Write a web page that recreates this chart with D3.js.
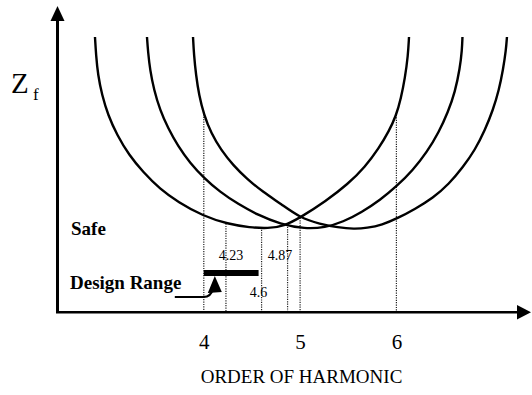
<!DOCTYPE html>
<html><head><meta charset="utf-8">
<script src="https://cdn.jsdelivr.net/npm/d3@7"></script>
<style>html,body{margin:0;padding:0;background:#fff}</style>
</head><body>
<svg id="chart" width="532" height="395"></svg>
<script>
// ---- data (harmonic order, Zf in arbitrary units) ----
const curveA = [[2.870,91.67],[2.881,85.67],[2.901,79.0],[2.943,72.33],[3.005,65.67],[3.099,59.0],[3.223,52.33],[3.369,46.67],[3.545,41.0],[3.732,36.67],[3.992,32.0],[4.251,29.33],[4.480,28.17],[4.667,27.83],[4.833,28.67],[4.999,31.4],[5.269,37.0],[5.497,42.67],[5.674,48.33],[5.819,54.67],[5.923,60.33],[5.996,65.33],[6.048,71.33],[6.089,78.0],[6.120,85.33],[6.131,91.67]];
const curveB = [[3.410,91.67],[3.421,86.67],[3.442,80.67],[3.483,74.0],[3.545,67.33],[3.628,61.33],[3.732,55.33],[3.857,49.67],[4.002,44.67],[4.168,40.0],[4.355,36.0],[4.563,32.33],[4.791,29.33],[5.051,27.67],[5.259,28.17],[5.445,30.0],[5.643,33.33],[5.830,37.33],[6.006,42.0],[6.172,47.33],[6.318,53.33],[6.442,60.0],[6.536,66.67],[6.609,73.33],[6.660,81.33],[6.681,87.33],[6.686,91.67]];
const curveC = [[3.888,91.67],[3.898,85.67],[3.919,79.0],[3.950,72.33],[4.002,65.67],[4.075,59.67],[4.179,54.0],[4.303,49.0],[4.449,44.33],[4.615,40.0],[4.802,36.0],[4.999,31.4],[5.207,29.33],[5.394,28.17],[5.560,27.67],[5.695,28.0],[5.850,29.0],[6.017,31.33],[6.193,34.33],[6.380,38.0],[6.546,42.67],[6.692,48.33],[6.816,54.0],[6.920,60.67],[7.003,67.33],[7.065,74.0],[7.107,80.67],[7.138,87.33],[7.148,91.67]];
const tickValues = [4, 5, 6];
const guideValues = [4, 4.23, 4.6, 4.87, 5, 6];
const guideTops = [65.9, 29.5, 28.2, 29.2, 31.4, 65.7];
const valueLabels = ["4.23", "4.6", "4.87"];
const valueLabelAt = [4.23, 4.6, 4.87];
const valueLabelLevel = [17.3, 5, 17.3];
const designRange = [4, 4.6];
const designLevel = 13;
const xTitle = "ORDER OF HARMONIC";
const yTitle = "Z";
const ySub = "f";
const safeLabel = "Safe";
const rangeLabel = "Design Range";

// ---- layout ----
const svg = d3.select("#chart");
svg.append("rect").attr("width",532).attr("height",395).attr("fill","#fff");
const x = d3.scaleLinear().domain([4, 6]).range([203.8, 396.4]);
const y = d3.scaleLinear().domain([0, 100]).range([312, 12]);
const serif = "'Liberation Serif','Times New Roman',serif";

// guide lines (dotted)
svg.append("g").selectAll("line").data(guideValues).join("line")
  .attr("x1", d => x(d)).attr("x2", d => x(d))
  .attr("y1", (d,i) => y(guideTops[i])).attr("y2", y(0))
  .attr("stroke", "#222").attr("stroke-width", 1.2)
  .attr("stroke-dasharray", "1.2,1.2");

// curves
const line = d3.line().x(d => x(d[0])).y(d => y(d[1])).curve(d3.curveBasis);
svg.append("g").selectAll("path").data([curveA, curveB, curveC]).join("path")
  .attr("d", line).attr("fill", "none").attr("stroke", "#000").attr("stroke-width", 2.4);

// axes
const axisX0 = 56, axisX1 = 519, axisY0 = 313, axisY1 = 20;
svg.append("line").attr("x1", 57.5).attr("x2", 57.5).attr("y1", axisY0).attr("y2", axisY1)
  .attr("stroke", "#000").attr("stroke-width", 3);
svg.append("path").attr("d", "M57.5,6 L64.5,21 L50.5,21 Z").attr("fill", "#000");
svg.append("line").attr("x1", axisX0).attr("x2", axisX1).attr("y1", 312.3).attr("y2", 312.3)
  .attr("stroke", "#000").attr("stroke-width", 2.6);
svg.append("path").attr("d", "M531,312.3 L517,305 L517,319.6 Z").attr("fill", "#000");

// x tick labels via d3 axis
const gx = svg.append("g").attr("transform", "translate(0,312)")
  .call(d3.axisBottom(x).tickValues(tickValues).tickSize(0).tickFormat(d3.format("d")));
gx.select(".domain").remove();
gx.selectAll("text").attr("y", 37).attr("dy", 0)
  .attr("font-family", serif).attr("font-size", 21).attr("fill", "#000");

// axis titles
svg.append("text").attr("x", 301.5).attr("y", 383).attr("text-anchor", "middle")
  .attr("font-family", serif).attr("font-size", 19).attr("fill", "#000").text(xTitle);
svg.append("text").attr("x", 11).attr("y", 93)
  .attr("font-family", serif).attr("font-size", 29).attr("fill", "#000").text(yTitle);
svg.append("text").attr("x", 33).attr("y", 100)
  .attr("font-family", serif).attr("font-size", 17).attr("fill", "#000").text(ySub);

// value labels
const labelShift = [5, -3, -7.6];
svg.append("g").selectAll("text").data(valueLabels).join("text")
  .attr("x", (d,i) => x(valueLabelAt[i]) + labelShift[i])
  .attr("y", (d,i) => y(valueLabelLevel[i]))
  .attr("text-anchor", "middle")
  .attr("font-family", serif).attr("font-size", 14).attr("fill", "#000").text(d => d);

// design range bar
svg.append("line").attr("x1", x(designRange[0])).attr("x2", x(designRange[1]) - 3)
  .attr("y1", y(designLevel)).attr("y2", y(designLevel))
  .attr("stroke", "#000").attr("stroke-width", 6);

// zone labels
svg.append("text").attr("x", 71).attr("y", 235)
  .attr("font-family", serif).attr("font-weight", "bold").attr("font-size", 19).attr("fill", "#000").text(safeLabel);
svg.append("text").attr("x", 70).attr("y", 289)
  .attr("font-family", serif).attr("font-weight", "bold").attr("font-size", 19).attr("fill", "#000").text(rangeLabel);

// arrow from label to bar
const bx = x(designRange[0]), by = y(designLevel);
svg.append("path")
  .attr("d", `M${bx-29},${by+24} L${bx},${by+24} Q${bx+7},${by+24} ${bx+9},${by+16}`)
  .attr("fill", "none").attr("stroke", "#000").attr("stroke-width", 2.2);
svg.append("path")
  .attr("d", `M${bx+11},${by+3} L${bx+18},${by+19} L${bx+4},${by+20} Z`)
  .attr("fill", "#000");
</script>
</body></html>
